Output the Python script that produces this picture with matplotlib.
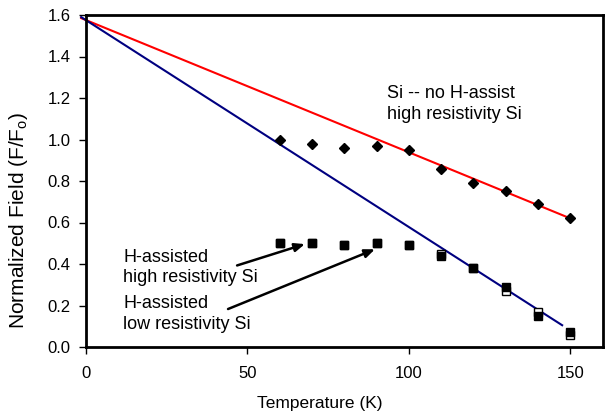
import matplotlib
matplotlib.use("Agg")
import matplotlib.pyplot as plt

plt.rcParams['font.family'] = ['Liberation Sans', 'DejaVu Sans']

# Data
temps = [60, 70, 80, 90, 100, 110, 120, 130, 140, 150]
no_h_assist = [1.00, 0.98, 0.96, 0.97, 0.95, 0.86, 0.79, 0.75, 0.69, 0.62]
h_high_res = [0.50, 0.50, 0.49, 0.50, 0.49, 0.44, 0.38, 0.29, 0.15, 0.07]
h_low_res = [0.50, 0.50, 0.49, 0.50, 0.49, 0.45, 0.38, 0.27, 0.17, 0.06]

# Trend lines (endpoints)
red_x = [-1.5, 150]
red_y = [1.585, 0.62]
blue_x = [-1.5, 147.5]
blue_y = [1.59, 0.105]

xticks = [0, 50, 100, 150]
yticks = [0.0, 0.2, 0.4, 0.6, 0.8, 1.0, 1.2, 1.4, 1.6]

fig = plt.figure(figsize=(6.06, 4.16), dpi=100)
ax = fig.add_axes([86/606, 1-347/416, (602.5-86)/606, (347-15)/416])

ax.plot(red_x, red_y, color='#ff0000', lw=1.5, clip_on=False, zorder=2)
ax.plot(blue_x, blue_y, color='#000080', lw=1.5, clip_on=False, zorder=2)

ax.plot(temps, no_h_assist, linestyle='none', marker='D', ms=5.4, color='black', zorder=3)
ax.plot(temps, h_low_res, linestyle='none', marker='s', ms=6.2, mfc='white', mec='black', mew=1.0, zorder=3)
ax.plot(temps, h_high_res, linestyle='none', marker='s', ms=6.2, color='black', zorder=4)

ax.set_xlim(0, 160)
ax.set_ylim(0, 1.6)
ax.set_xticks(xticks)
ax.set_xticklabels([str(t) for t in xticks])
ax.set_yticks(yticks)
ax.set_yticklabels([f"{t:.1f}" for t in yticks])

for s in ax.spines.values():
    s.set_linewidth(2.0)
    s.set_color('black')
ax.tick_params(direction='out', length=5, width=1, labelsize=12, colors='black', pad=6)
ax.tick_params(axis='x', pad=9)

ax.set_xlabel("Temperature (K)", fontsize=12.5)
ax.xaxis.set_label_coords(0.453, -0.148)
ax.set_ylabel("Normalized Field (F/F$_\\mathregular{o}$)", fontsize=15)
ax.yaxis.set_label_coords(-0.108, 0.38)

ax.text(93.2, 1.172, "Si -- no H-assist\nhigh resistivity Si", fontsize=13, ha='left', va='center', linespacing=1.32)
ax.text(11.5, 0.384, "H-assisted\nhigh resistivity Si", fontsize=13, ha='left', va='center', linespacing=1.28)
ax.text(11.5, 0.158, "H-assisted\nlow resistivity Si", fontsize=13, ha='left', va='center', linespacing=1.28)

arrow_kw = dict(arrowstyle='-|>,head_length=0.6,head_width=0.25', color='black', lw=1.8,
                mutation_scale=10, shrinkA=0, shrinkB=0)
ax.annotate("", xy=(67.8, 0.496), xytext=(46.8, 0.393), arrowprops=arrow_kw)
ax.annotate("", xy=(89.5, 0.471), xytext=(44.0, 0.183), arrowprops=arrow_kw)

fig.savefig("out.png", dpi=100)
